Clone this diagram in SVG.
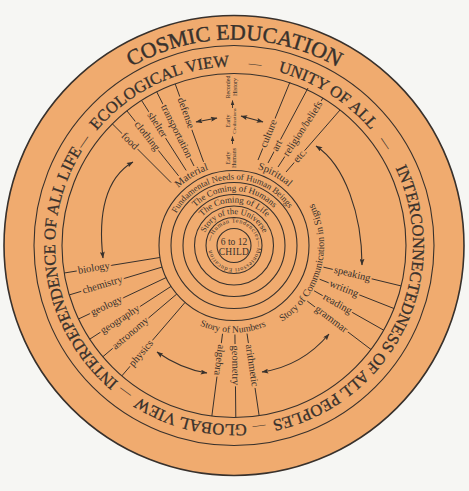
<svg xmlns="http://www.w3.org/2000/svg" width="469" height="491" viewBox="0 0 469 491">
<style>
text{font-family:"Liberation Serif","Times New Roman",serif;fill:#38312c}
.ring{fill:none;stroke:#38312c;stroke-width:1.1}
.spoke{stroke:#38312c;stroke-width:1;fill:none}
.arr{stroke:#38312c;stroke-width:1.1;fill:none;marker-start:url(#ah);marker-end:url(#ah)}
.up{stroke:#38312c;stroke-width:0.9;fill:none;marker-end:url(#ahs)}
.lbl{font-size:10.5px;stroke:#F0AB6F;stroke-width:4;paint-order:stroke;stroke-linejoin:round}
.big{font-size:16.5px;text-anchor:middle;stroke:#38312c;stroke-width:0.3}
.dash{font-size:13px;text-anchor:middle}
.mid{text-anchor:middle}
.c9{font-size:9px}
.tiny{font-size:6px;text-anchor:middle}
</style>
<defs>
<marker id="ah" viewBox="0 0 8 6" refX="7.5" refY="3" markerWidth="7" markerHeight="5" orient="auto-start-reverse" markerUnits="userSpaceOnUse"><path d="M0,0 L8,3 L0,6 L1.5,3 z" fill="#38312c"/></marker>
<marker id="ahs" viewBox="0 0 8 6" refX="7.5" refY="3" markerWidth="5" markerHeight="4" orient="auto" markerUnits="userSpaceOnUse"><path d="M0,0 L8,3 L0,6 z" fill="#38312c"/></marker>
<path id="p206" d="M234,39.5 A206,206 0 0 1 234,451.5 A206,206 0 0 1 234,39.5 A206,206 0 0 1 234,451.5 A206,206 0 0 1 234,39.5"/>
<path id="p179" d="M234,66.5 A179,179 0 0 1 234,424.5 A179,179 0 0 1 234,66.5 A179,179 0 0 1 234,424.5 A179,179 0 0 1 234,66.5"/>
<path id="p23" d="M234,222.5 A23,23 0 0 1 234,268.5 A23,23 0 0 1 234,222.5 A23,23 0 0 1 234,268.5 A23,23 0 0 1 234,222.5"/>
<path id="p31" d="M234,214 A31.5,31.5 0 0 1 234,277 A31.5,31.5 0 0 1 234,214 A31.5,31.5 0 0 1 234,277 A31.5,31.5 0 0 1 234,214"/>
<path id="p43" d="M234,202.5 A43,43 0 0 1 234,288.5 A43,43 0 0 1 234,202.5 A43,43 0 0 1 234,288.5 A43,43 0 0 1 234,202.5"/>
<path id="p54" d="M234,191 A54.5,54.5 0 0 1 234,300 A54.5,54.5 0 0 1 234,191 A54.5,54.5 0 0 1 234,300 A54.5,54.5 0 0 1 234,191"/>
<path id="p66" d="M234,179.5 A66,66 0 0 1 234,311.5 A66,66 0 0 1 234,179.5 A66,66 0 0 1 234,311.5 A66,66 0 0 1 234,179.5"/>
<path id="p80" d="M234,165.5 A80,80 0 0 1 234,325.5 A80,80 0 0 1 234,165.5 A80,80 0 0 1 234,325.5 A80,80 0 0 1 234,165.5"/>
<path id="q90" d="M234,155.5 A90,90 0 0 0 234,335.5 A90,90 0 0 0 234,155.5 A90,90 0 0 0 234,335.5 A90,90 0 0 0 234,155.5"/>
<path id="q87" d="M234,158.5 A87,87 0 0 0 234,332.5 A87,87 0 0 0 234,158.5 A87,87 0 0 0 234,332.5 A87,87 0 0 0 234,158.5"/>
</defs>
<rect width="469" height="491" fill="#F6F6F3"/>
<g id="disc">
<circle cx="234" cy="245.5" r="230" fill="#F0AB6F" stroke="#38312c" stroke-width="1.6"/>
<circle class="ring" cx="234" cy="245.5" r="200"/>
<circle class="ring" cx="234" cy="245.5" r="172"/>
<circle class="ring" cx="234" cy="245.5" r="75"/>
<circle class="ring" cx="234" cy="245.5" r="63"/>
<circle class="ring" cx="234" cy="245.5" r="51"/>
<circle class="ring" cx="234" cy="245.5" r="39.5"/>
<circle class="ring" cx="234" cy="245.5" r="28"/>
<circle class="ring" cx="234" cy="245.5" r="17"/>
</g>
<g id="outer-ring-text">
<text style="font-size:22px;text-anchor:middle;stroke:#38312c;stroke-width:0.4"><textPath href="#p206" startOffset="1294.3">COSMIC EDUCATION</textPath></text>
<text class="big"><textPath href="#p179" startOffset="1043.5">ECOLOGICAL VIEW</textPath></text>
<text class="dash"><textPath href="#p179" startOffset="1145">—</textPath></text>
<text class="big"><textPath href="#p179" startOffset="100">UNITY OF ALL</textPath></text>
<text class="dash"><textPath href="#p179" startOffset="175">—</textPath></text>
<text class="big"><textPath href="#p179" startOffset="362.4">INTERCONNECTEDNESS OF ALL PEOPLES</textPath></text>
<text class="dash"><textPath href="#p179" startOffset="537.4">—</textPath></text>
<text class="big"><textPath href="#p179" startOffset="606.1">GLOBAL VIEW</textPath></text>
<text class="dash"><textPath href="#p179" startOffset="676.4">—</textPath></text>
<text class="big"><textPath href="#p179" startOffset="815.4">INTERDEPENDENCE OF ALL LIFE</textPath></text>
<text class="dash"><textPath href="#p179" startOffset="951.3">—</textPath></text>
</g>
<g id="center-rings">
<text style="font-size:6.2px;letter-spacing:0.55px"><textPath href="#p23" startOffset="111.6">—Human Tendencies—Montessori Education</textPath></text>
<text class="mid" style="font-size:8.5px"><textPath href="#p31" startOffset="197.9">Story of the Universe</textPath></text>
<text class="mid c9"><textPath href="#p43" startOffset="270.2">The Coming of Life</textPath></text>
<text class="mid c9"><textPath href="#p54" startOffset="342.4">The Coming of Humans</textPath></text>
<text class="mid" style="font-size:8.8px"><textPath href="#p66" startOffset="411.2">Fundamental Needs of Human Beings</textPath></text>
</g>
<g id="node-child">
<text class="mid" x="234" y="245" style="font-size:9.5px">6 to 12</text>
<text class="mid" x="234" y="254.5" style="font-size:9.5px;letter-spacing:0.3px">CHILD</text>
</g>
<g id="connectors">
<line class="spoke" x1="171.07" y1="182.57" x2="112.38" y2="123.88"/>
<line class="spoke" x1="178.60" y1="175.85" x2="126.93" y2="110.89"/>
<line class="spoke" x1="186.18" y1="170.44" x2="141.58" y2="100.44"/>
<line class="spoke" x1="194.01" y1="165.99" x2="156.72" y2="91.84"/>
<line class="spoke" x1="203.56" y1="161.87" x2="175.17" y2="83.87"/>
<line class="spoke" x1="258" y1="160" x2="290" y2="82"/>
<line class="spoke" x1="268" y1="163" x2="308" y2="88"/>
<line class="spoke" x1="278" y1="167" x2="323" y2="98"/>
<line class="spoke" x1="286" y1="172" x2="340" y2="110"/>
<line class="spoke" x1="159.97" y1="257.49" x2="64.22" y2="273.0"/>
<line class="spoke" x1="162.16" y1="267.05" x2="69.26" y2="294.93"/>
<line class="spoke" x1="166.19" y1="277.55" x2="78.49" y2="319.01"/>
<line class="spoke" x1="171.10" y1="286.35" x2="89.74" y2="339.17"/>
<line class="spoke" x1="176.80" y1="294.01" x2="102.82" y2="356.75"/>
<line class="spoke" x1="185.09" y1="302.36" x2="121.84" y2="375.89"/>
<line class="spoke" x1="323.42" y1="267.13" x2="401.18" y2="285.94"/>
<line class="spoke" x1="319.60" y1="279.22" x2="394.03" y2="308.54"/>
<line class="spoke" x1="314.08" y1="290.80" x2="383.71" y2="330.19"/>
<line class="spoke" x1="307.28" y1="301.12" x2="371.0" y2="349.49"/>
<line class="spoke" x1="222.54" y1="333.76" x2="211.85" y2="416.07"/>
<line class="spoke" x1="234.93" y1="334.5" x2="235.80" y2="417.49"/>
<line class="spoke" x1="247.0" y1="333.55" x2="259.13" y2="415.66"/>
<path class="arr" d="M196,122 L217,118"/>
<path class="arr" d="M241,116 L263,122"/>
<path class="up" d="M232.5,144 L232.5,136.5"/>
<path class="up" d="M232.5,108 L232.5,100.5"/>
<path class="arr" d="M133,162 C105,178 98,215 103,258"/>
<path class="arr" d="M316,146 C345,165 362,215 362,265"/>
<path class="arr" d="M157,352 Q181,369 207,373"/>
<path class="arr" d="M262,372 Q302,366 329,334"/>
</g>
<g id="node-material">
<text class="mid" style="font-size:10.5px"><textPath href="#p80" startOffset="458">Material</textPath></text>
<text class="lbl" transform="translate(122.99,134.49) rotate(45)" y="3">food</text>
<text class="lbl" transform="translate(136.27,122.63) rotate(51.5)" y="3">clothing</text>
<text class="lbl" transform="translate(149.64,113.09) rotate(57.5)" y="3">shelter</text>
<text class="lbl" transform="translate(163.46,105.24) rotate(63.3)" y="3">transportation</text>
<text class="lbl" transform="translate(180.30,97.97) rotate(70)" y="3">defense</text>
</g>
<g id="node-spiritual">
<text class="mid" style="font-size:10.5px"><textPath href="#p80" startOffset="41.9">Spiritual</textPath></text>
<text class="lbl" transform="translate(263.3,147) rotate(-67.7)" y="3">culture</text>
<text class="lbl" transform="translate(274.6,150.6) rotate(-61.9)" y="3">art</text>
<text class="lbl" transform="translate(285.6,155.3) rotate(-56.9)" y="3">religion/beliefs</text>
<text class="lbl" transform="translate(295.2,161.4) rotate(-48.9)" y="3">etc.</text>
</g>
<g id="node-history">
<text class="tiny" transform="translate(230,87) rotate(-90)">Recorded</text>
<text class="tiny" transform="translate(236.5,87) rotate(-90)">History</text>
<text class="tiny" transform="translate(229.5,121) rotate(-90)">Early</text>
<text class="tiny" transform="translate(236,121) rotate(-90)" style="font-size:5px">Civilizations</text>
<text class="tiny" transform="translate(229.5,158) rotate(-90)">Early</text>
<text class="tiny" transform="translate(236,158) rotate(-90)">Humans</text>
</g>
<g id="node-sciences">
<text class="lbl" transform="translate(78.04,270.76) rotate(-9.2)" y="3">biology</text>
<text class="lbl" transform="translate(82.67,290.91) rotate(-16.7)" y="3">chemistry</text>
<text class="lbl" transform="translate(91.15,313.03) rotate(-25.3)" y="3">geology</text>
<text class="lbl" transform="translate(101.49,331.55) rotate(-33)" y="3">geography</text>
<text class="lbl" transform="translate(113.49,347.69) rotate(-40.3)" y="3">astronomy</text>
<text class="lbl" transform="translate(130.97,365.28) rotate(-49.3)" y="3">physics</text>
</g>
<g id="node-communication">
<text class="mid" style="font-size:10px"><textPath href="#q90" startOffset="400">Story of Communication in Signs</textPath></text>
<text class="lbl" transform="translate(334.12,269.72) rotate(13.6)" y="3">speaking</text>
<text class="lbl" transform="translate(329.83,283.25) rotate(21.5)" y="3">writing</text>
<text class="lbl" transform="translate(323.65,296.22) rotate(29.5)" y="3">reading</text>
<text class="lbl" transform="translate(316.04,307.77) rotate(37.2)" y="3">grammar</text>
</g>
<g id="node-numbers">
<text class="mid" style="font-size:9.5px"><textPath href="#q87" startOffset="271.8">Story of Numbers</textPath></text>
<text class="lbl" transform="translate(221.12,344.67) rotate(97.4)" y="3">algebra</text>
<text class="lbl" transform="translate(235.05,345.5) rotate(89.4)" y="3">geometry</text>
<text class="lbl" transform="translate(248.61,344.43) rotate(81.6)" y="3">arithmetic</text>
</g>
</svg>
